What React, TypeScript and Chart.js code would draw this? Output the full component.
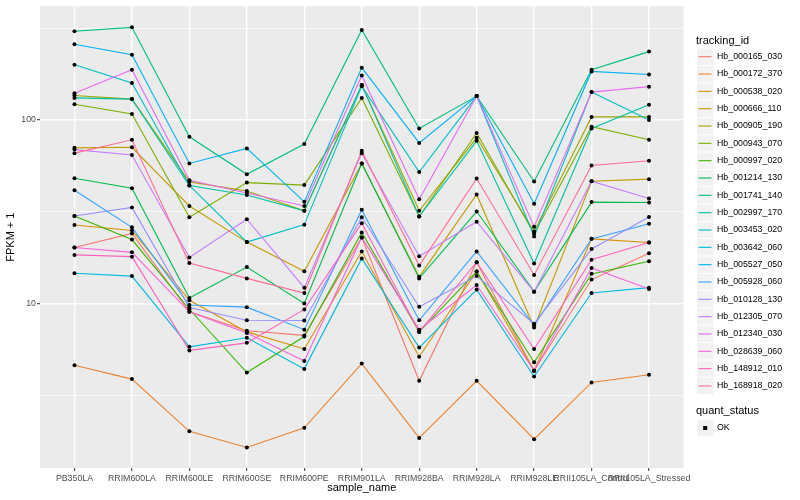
import React, { useEffect, useRef } from "react";
import { Chart, registerables } from "chart.js";

Chart.register(...registerables);

const categories = [
  "PB350LA", "RRIM600LA", "RRIM600LE", "RRIM600SE", "RRIM600PE", "RRIM901LA",
  "RRIM928BA", "RRIM928LA", "RRIM928LE", "RRII105LA_Control", "RRII105LA_Stressed",
];

const seriesNames = [
  "Hb_000165_030", "Hb_000172_370", "Hb_000538_020", "Hb_000666_110", "Hb_000905_190",
  "Hb_000943_070", "Hb_000997_020", "Hb_001214_130", "Hb_001741_140", "Hb_002997_170",
  "Hb_003453_020", "Hb_003642_060", "Hb_005527_050", "Hb_005928_060", "Hb_010128_130",
  "Hb_012305_070", "Hb_012340_030", "Hb_028639_060", "Hb_148912_010", "Hb_168918_020",
];

const seriesColors = [
  "#F8766D", "#EA8331", "#D89000", "#C09B00", "#A3A500", "#7CAE00", "#39B600", "#00BB4E",
  "#00BF7D", "#00C1A3", "#00BFC4", "#00BAE0", "#00B0F6", "#35A2FF", "#9590FF", "#C77CFF",
  "#E76BF3", "#FA62DB", "#FF62BC", "#FF6C91",
];

// FPKM + 1 values per series, in category order
const hb000165_030 = [20.2, 24.1, 9.0, 7.1, 6.7, 22.9, 3.79, 16.8, 4.3, 13.5, 18.8];
const hb000172_370 = [4.6, 3.87, 2.01, 1.64, 2.1, 4.7, 1.85, 3.79, 1.82, 3.71, 4.09];
const hb000538_020 = [26.8, 25.0, 10.4, 7.0, 5.65, 19.2, 5.12, 15.0, 4.3, 22.5, 21.5];
const hb000666_110 = [70.5, 71, 34, 21.6, 15, 58, 14.0, 39.3, 7.4, 46.4, 47.6];
const hb000905_190 = [136, 130, 46, 41, 32, 155, 32, 80, 24.7, 104, 104];
const hb000943_070 = [122, 108, 29.5, 45.6, 44.2, 132, 29.8, 85, 24, 92, 78];
const hb000997_020 = [30, 22.3, 9.3, 4.2, 6.6, 24.4, 7.0, 14.9, 4.78, 14.5, 17];
const hb001214_130 = [48.2, 42.5, 10.7, 15.8, 10, 58, 13.7, 31.7, 11.6, 35.7, 35.5];
const hb001741_140 = [305, 320, 81, 50.6, 74, 310, 90, 135, 46.2, 188, 236];
const hb002997_170 = [132, 130, 44, 39, 32, 155, 29.8, 77, 16.5, 90, 121];
const hb003453_020 = [200, 159, 44, 21.6, 26.9, 153, 52, 135, 23.2, 142, 100];
const hb003642_060 = [14.6, 14.1, 5.8, 6.5, 4.4, 17.6, 5.75, 11.9, 4.0, 11.4, 12.2];
const hb005527_050 = [259, 227, 58, 70, 35.8, 193, 75, 135, 35, 184, 177];
const hb005928_060 = [41.4, 26, 9.8, 9.55, 7.2, 32.4, 8.1, 19.2, 7.6, 22.5, 27.2];
const hb010128_130 = [30, 33.4, 9.5, 8.1, 8.08, 29.5, 9.6, 14.1, 7.75, 19.8, 29.6];
const hb012305_070 = [69, 64.5, 17.8, 28.8, 12.2, 66, 18.1, 27.9, 11.6, 46.4, 37.3];
const hb012340_030 = [140, 188, 47, 40, 34, 175, 37, 135, 26.2, 142, 152];
const hb028639_060 = [20.2, 19.0, 9.0, 6.9, 4.86, 22.9, 7.2, 12.6, 4.3, 15.6, 12.0];
const hb148912_010 = [18.4, 18.0, 5.55, 6.1, 9.28, 27.4, 7.0, 16.8, 5.65, 17.3, 21.5];
const hb168918_020 = [66, 78, 16.6, 13.7, 11.4, 68, 16.1, 48, 14.3, 56.5, 60];

const seriesValues = [
  hb000165_030, hb000172_370, hb000538_020, hb000666_110, hb000905_190,
  hb000943_070, hb000997_020, hb001214_130, hb001741_140, hb002997_170,
  hb003453_020, hb003642_060, hb005527_050, hb005928_060, hb010128_130,
  hb012305_070, hb012340_030, hb028639_060, hb148912_010, hb168918_020,
];

const yMajorTicks = [10, 100];
const yMinorBreaks = [3.1623, 31.623, 316.23];
const yLimits = [1.268, 416.9];

const legendTitle = "tracking_id";
const shapeTitle = "quant_status";
const shapeLabels = ["OK"];

const FONT = '"Liberation Sans", Arial, Helvetica, sans-serif';

const isMajor = (v: number) => yMajorTicks.some((m) => Math.abs(m - v) < 1e-6);

const bgPlugin = {
  id: "panelBg",
  beforeDraw(chart: any) {
    const { ctx, chartArea } = chart;
    ctx.save();
    ctx.fillStyle = "#EBEBEB";
    ctx.fillRect(chartArea.left, chartArea.top, chartArea.right - chartArea.left, chartArea.bottom - chartArea.top);
    ctx.restore();
  },
};

const legendPlugin = {
  id: "ggLegend",
  afterDraw(chart: any) {
    const ctx = chart.ctx;
    ctx.save();
    ctx.textBaseline = "middle";
    ctx.textAlign = "left";
    ctx.fillStyle = "#000";
    ctx.font = `11px ${FONT}`;
    ctx.fillText(legendTitle, 696, 40.5);
    const step = 17.33;
    seriesNames.forEach((name, i) => {
      const cy = 56.7 + i * step;
      ctx.fillStyle = "#F2F2F2";
      ctx.fillRect(697, cy - 8.2, 16.4, 16.4);
      ctx.strokeStyle = seriesColors[i];
      ctx.lineWidth = 1.1;
      ctx.beginPath();
      ctx.moveTo(698.5, cy);
      ctx.lineTo(711.5, cy);
      ctx.stroke();
      ctx.fillStyle = "#000";
      ctx.font = `8.8px ${FONT}`;
      ctx.fillText(name, 717, cy);
    });
    ctx.font = `11px ${FONT}`;
    ctx.fillStyle = "#000";
    ctx.fillText(shapeTitle, 696, 411);
    shapeLabels.forEach((lab, i) => {
      const cy = 428 + i * step;
      ctx.fillStyle = "#F2F2F2";
      ctx.fillRect(697, cy - 8.2, 16.4, 16.4);
      ctx.fillStyle = "#000";
      ctx.fillRect(703.2, cy - 2, 4, 4);
      ctx.font = `8.8px ${FONT}`;
      ctx.fillText(lab, 717, cy);
    });
    ctx.restore();
  },
};

export default function App() {
  const ref = useRef<HTMLCanvasElement | null>(null);

  useEffect(() => {
    if (!ref.current) return;
    const lineSets = seriesValues.map((vals, i) => ({
      type: "line" as const,
      label: seriesNames[i],
      data: vals.map((v, j) => ({ x: j, y: v })),
      borderColor: seriesColors[i],
      backgroundColor: seriesColors[i],
      borderWidth: 1.1,
      pointRadius: 0,
      tension: 0,
      fill: false,
      order: 100 - i,
    }));
    const pointSets = seriesValues.map((vals, i) => ({
      type: "line" as const,
      label: seriesNames[i] + " pts",
      data: vals.map((v, j) => ({ x: j, y: v })),
      showLine: false,
      pointRadius: 2,
      pointStyle: "circle",
      pointBackgroundColor: "#000",
      pointBorderColor: "#000",
      pointBorderWidth: 0,
      order: -10,
    }));

    const chart = new Chart(ref.current, {
      type: "line",
      data: { datasets: [...lineSets, ...pointSets] as any },
      options: {
        animation: false,
        responsive: false,
        maintainAspectRatio: false,
        events: [],
        layout: { padding: { left: 0, right: 116.5, top: 5, bottom: 0 } },
        plugins: { legend: { display: false }, tooltip: { enabled: false } },
        scales: {
          x: {
            type: "linear",
            min: -0.6,
            max: categories.length - 1 + 0.6,
            afterBuildTicks: (scale: any) => {
              scale.ticks = categories.map((_, i) => ({ value: i }));
            },
            afterFit: (scale: any) => {
              scale.height = 32;
            },
            border: { display: false },
            grid: {
              color: "#FFFFFF",
              lineWidth: 1.4,
              drawTicks: true,
              tickLength: 3,
              tickColor: "#333333",
              tickWidth: 1,
            },
            ticks: {
              autoSkip: false,
              maxRotation: 0,
              minRotation: 0,
              padding: 2,
              color: "#4D4D4D",
              font: { family: FONT, size: 8.8 },
              callback: (v: any) => categories[Math.round(Number(v))] ?? "",
            },
            title: {
              display: true,
              text: "sample_name",
              color: "#000",
              font: { family: FONT, size: 11 },
              padding: { top: 0, bottom: 5.4 },
            },
          },
          y: {
            type: "logarithmic",
            min: yLimits[0],
            max: yLimits[1],
            afterBuildTicks: (scale: any) => {
              scale.ticks = [...yMinorBreaks, ...yMajorTicks]
                .sort((a, b) => a - b)
                .map((v) => ({ value: v, major: isMajor(v) }));
            },
            afterFit: (scale: any) => {
              scale.width = 40;
            },
            border: { display: false },
            grid: {
              color: "#FFFFFF",
              lineWidth: (c: any) => (isMajor(c.tick?.value) ? 1.4 : 0.7),
              drawTicks: true,
              tickLength: 3,
              tickColor: (c: any) => (isMajor(c.tick?.value) ? "#333333" : "rgba(0,0,0,0)"),
              tickWidth: 1,
            },
            ticks: {
              autoSkip: false,
              padding: 1,
              color: "#4D4D4D",
              font: { family: FONT, size: 8.8 },
              callback: (v: any) => (isMajor(Number(v)) ? String(Math.round(Number(v))) : ""),
            },
            title: {
              display: true,
              text: "FPKM + 1",
              color: "#000",
              font: { family: FONT, size: 11 },
              padding: { top: 4.4, bottom: 0 },
            },
          },
        },
      },
      plugins: [bgPlugin, legendPlugin],
    } as any);
    return () => chart.destroy();
  }, []);

  return (
    <div style={{ position: "fixed", left: 0, top: 0, width: 800, height: 500, background: "#fff" }}>
      <canvas ref={ref} width={800} height={500} style={{ width: 800, height: 500, display: "block" }} />
    </div>
  );
}
